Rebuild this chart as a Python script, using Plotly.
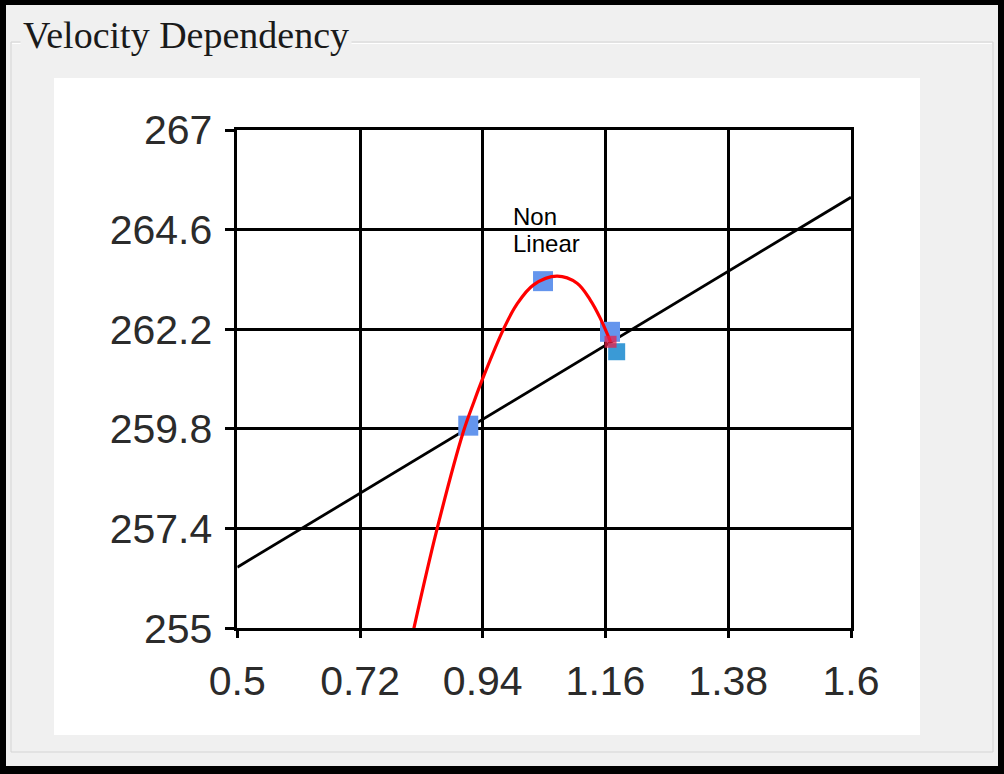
import plotly.graph_objects as go

# axis ticks
x_ticks = [0.5, 0.72, 0.94, 1.16, 1.38, 1.6]
y_ticks = [255, 257.4, 259.8, 262.2, 264.6, 267]

# measured points
pts_x = [0.914, 1.048, 1.168]
pts_y = [259.88, 263.36, 262.14]
pt2_x = [1.180]
pt2_y = [261.66]

# non linear fit
curve_x = [0.8165, 0.8576, 0.9053, 0.9232, 0.9412, 0.977, 1.001, 1.031, 1.073, 1.109, 1.1325, 1.1505, 1.169]
curve_y = [255.0, 257.37, 259.74, 260.42, 261.06, 262.2, 262.8, 263.27, 263.48, 263.31, 262.91, 262.47, 261.9]

# linear fit
line_x = [0.5, 1.6]
line_y = [256.47, 265.38]

W, H = 1004, 774


def px(x):
    return x / W


def py(y):
    return 1 - y / H


fig = go.Figure()

fig.add_trace(go.Scatter(x=line_x, y=line_y, mode="lines",
                         line=dict(color="black", width=2.8), hoverinfo="skip"))
fig.add_trace(go.Scatter(x=pts_x, y=pts_y, mode="markers",
                         marker=dict(symbol="square", size=20, color="#6495ED"), hoverinfo="skip"))
fig.add_trace(go.Scatter(x=pt2_x, y=pt2_y, mode="markers",
                         marker=dict(symbol="square", size=17, color="#3a9ad6"), hoverinfo="skip"))
fig.add_trace(go.Scatter(x=curve_x, y=curve_y, mode="lines", line_shape="spline",
                         line=dict(color="red", width=3.2), hoverinfo="skip"))
fig.add_trace(go.Scatter(x=curve_x[-1:], y=curve_y[-1:], mode="markers",
                         marker=dict(symbol="square", size=12, color="#e8204a", opacity=0.75),
                         hoverinfo="skip"))

shapes = [
    # window background inside black border
    dict(type="rect", xref="paper", yref="paper", x0=px(6), x1=px(998), y0=py(766), y1=py(5),
         fillcolor="#f0f0f0", line_width=0, layer="below"),
    # group box frame
    dict(type="rect", xref="paper", yref="paper", x0=px(11), x1=px(993), y0=py(752), y1=py(42),
         line=dict(color="#d4d4d4", width=1), layer="below"),
    dict(type="line", xref="paper", yref="paper", x0=px(12), x1=px(992), y0=py(43.5), y1=py(43.5),
         line=dict(color="#ffffff", width=1), layer="below"),
    # white chart panel
    dict(type="rect", xref="paper", yref="paper", x0=px(54), x1=px(920), y0=py(735), y1=py(78),
         fillcolor="white", line_width=0, layer="below"),
]

axis_font = dict(family="Liberation Sans, Arial", size=41, color="#2b2b2b")
label_font = dict(family="Liberation Sans, Arial", size=24, color="black")

fig.update_layout(
    width=W, height=H,
    margin=dict(l=0, r=0, t=0, b=0, pad=0, autoexpand=False),
    paper_bgcolor="black",
    plot_bgcolor="rgba(0,0,0,0)",
    showlegend=False,
    shapes=shapes,
    xaxis=dict(range=[0.5, 1.6], domain=[px(237.3), px(851)], automargin=False,
               tickvals=x_ticks, ticktext=[str(v) for v in x_ticks],
               showgrid=True, gridcolor="black", gridwidth=2.6,
               showline=True, linecolor="black", linewidth=2.6, mirror=True,
               ticks="outside", ticklen=7, tickwidth=2.6, tickcolor="black",
               zeroline=False, tickfont=axis_font, ticklabelstandoff=8),
    yaxis=dict(range=[255, 267], domain=[py(628.3), py(130)], automargin=False,
               tickvals=y_ticks, ticktext=[str(v) for v in y_ticks],
               showgrid=True, gridcolor="black", gridwidth=2.6,
               showline=True, linecolor="black", linewidth=2.6, mirror=True,
               ticks="outside", ticklen=10, tickwidth=2.6, tickcolor="black",
               zeroline=False, tickfont=axis_font, ticklabelstandoff=4),
    annotations=[
        dict(text="Velocity Dependency", xref="paper", yref="paper",
             x=px(20), y=py(35), xanchor="left", yanchor="middle", showarrow=False,
             font=dict(family="Liberation Serif, Times New Roman", size=38, color="#1a1a1a"),
             bgcolor="#f0f0f0", borderpad=2),
        dict(text="Non", x=0.991, y=265.29, xanchor="left", yanchor="top",
             showarrow=False, align="left", font=label_font),
        dict(text="Linear", x=0.991, y=264.63, xanchor="left", yanchor="top",
             showarrow=False, align="left", font=label_font),
    ],
)

fig.write_html("out.html", config=dict(displayModeBar=False),
               post_script="document.body.style.margin='0';")
